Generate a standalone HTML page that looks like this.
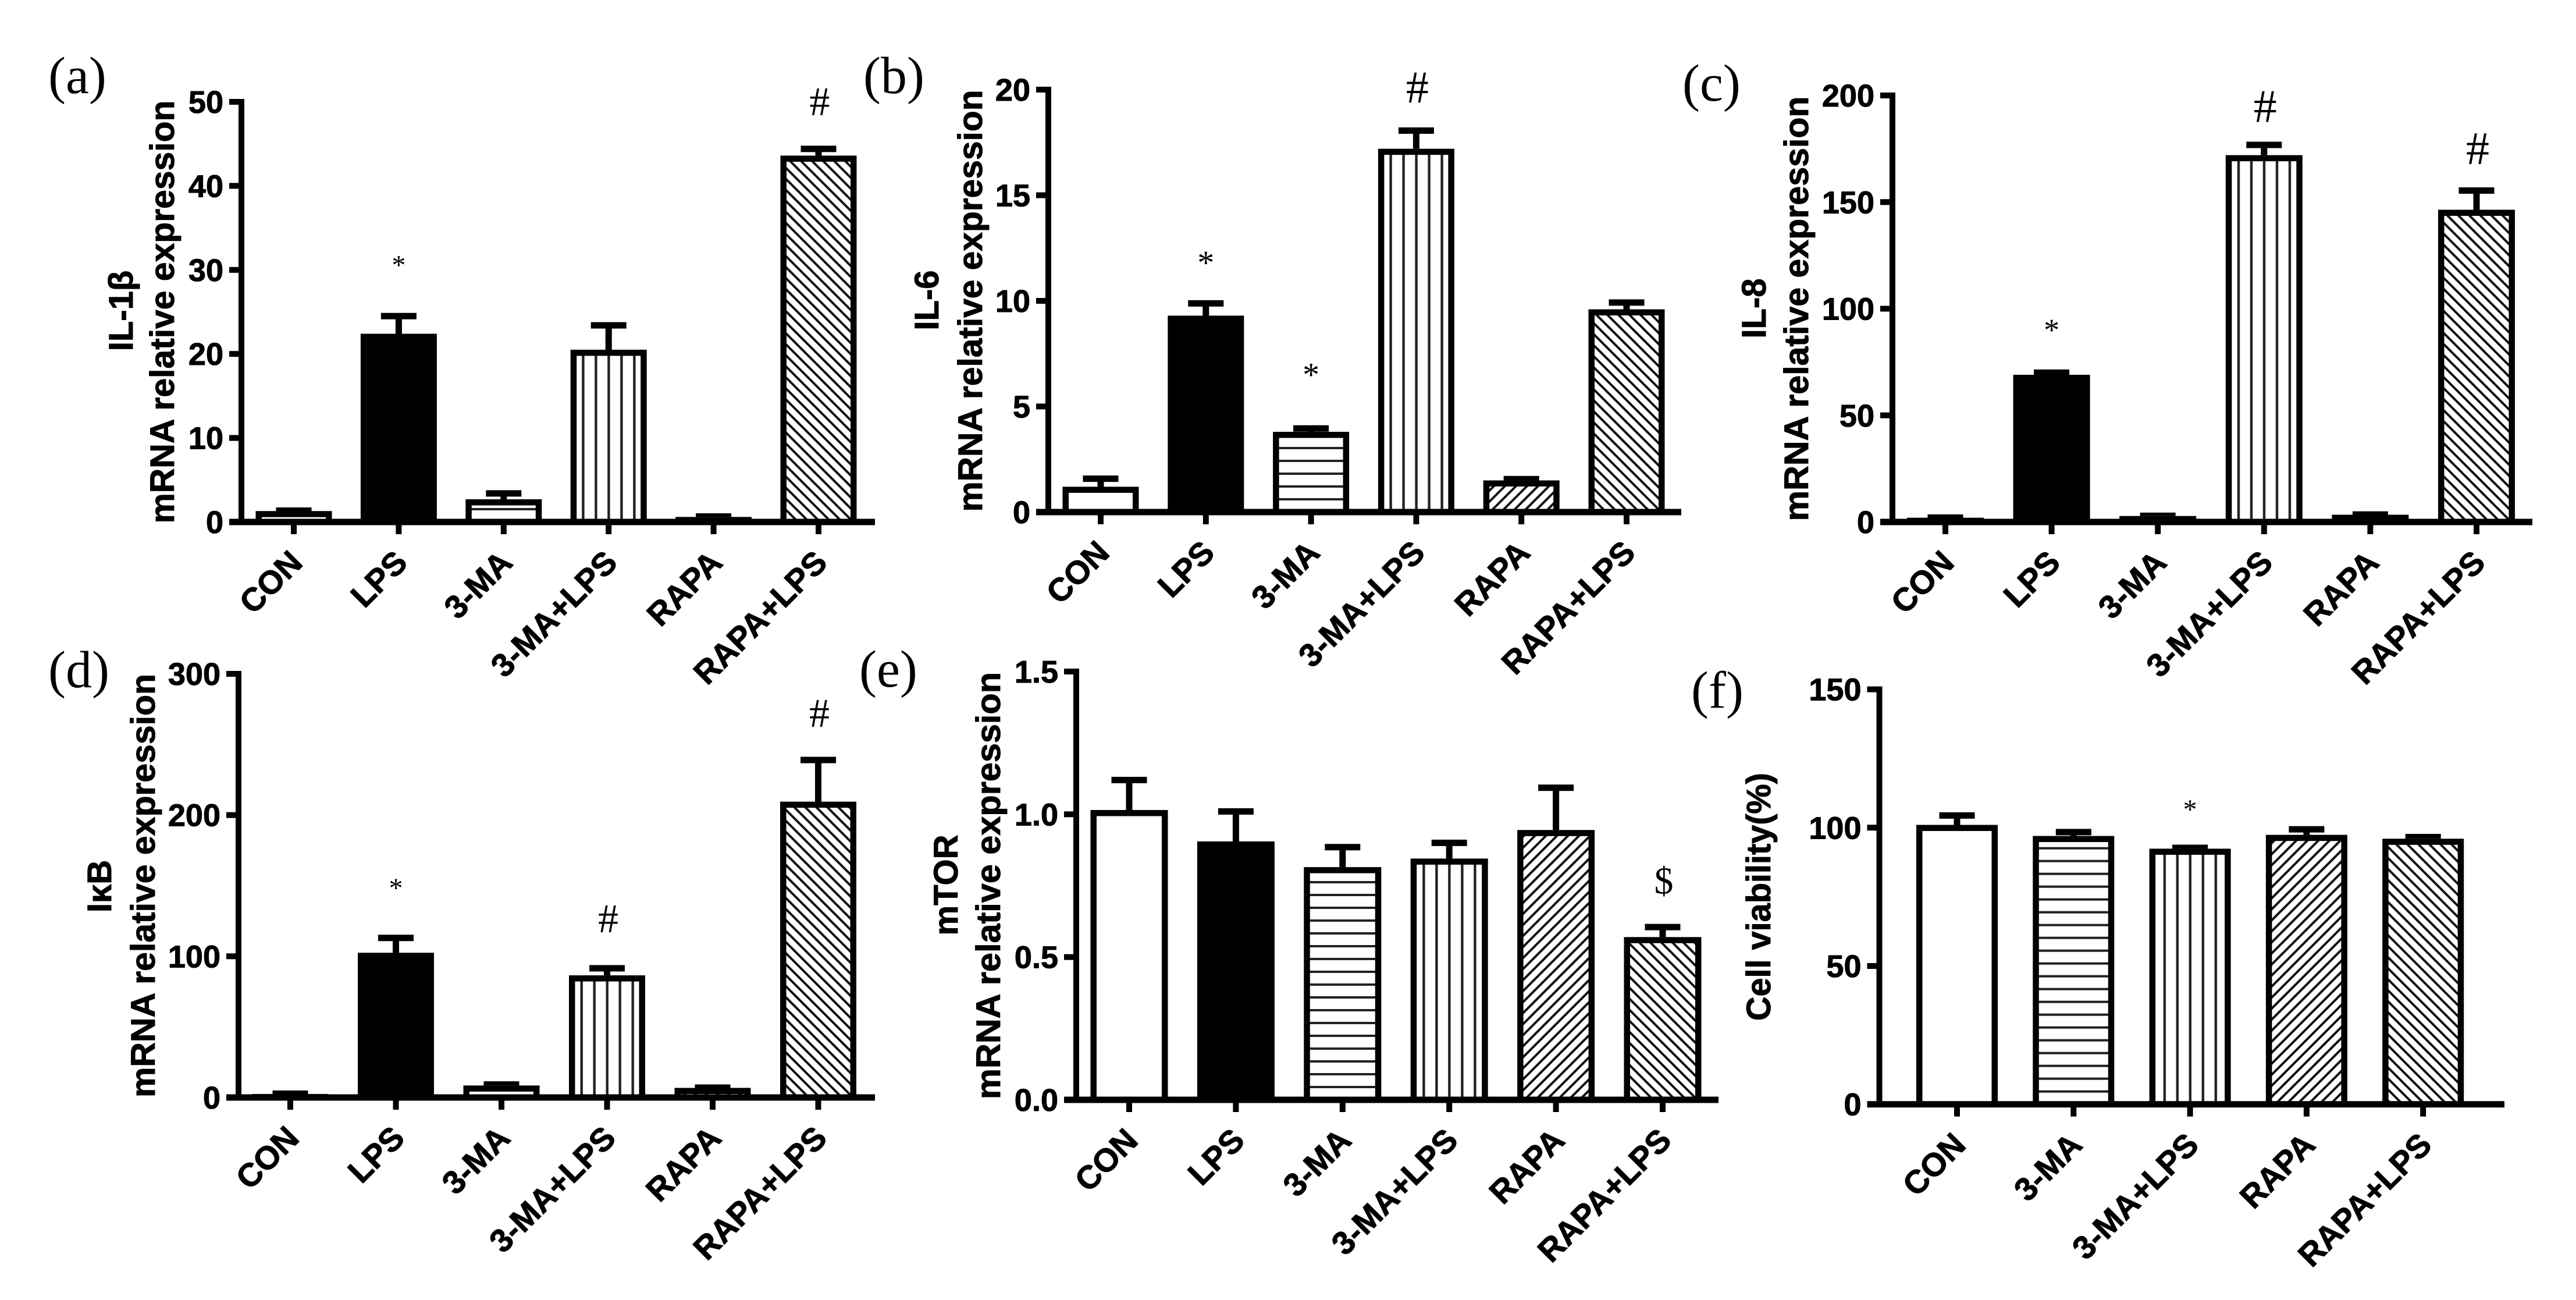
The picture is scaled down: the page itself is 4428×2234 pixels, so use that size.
<!DOCTYPE html>
<html lang="en">
<head>
<meta charset="utf-8">
<title>mRNA relative expression panels</title>
<style>
html,body{margin:0;padding:0;background:#fff;}
svg{display:block;}
text{fill:#000;}
.sans{font-family:"Liberation Sans",Arial,sans-serif;font-weight:bold;stroke:#000;stroke-width:1;}
.serif{font-family:"Liberation Serif","Times New Roman",serif;font-weight:normal;}
</style>
</head>
<body>
<svg id="figure" xmlns="http://www.w3.org/2000/svg" width="4428" height="2234" viewBox="0 0 4428 2234">
<rect x="0" y="0" width="4428" height="2234" fill="#fff"/>
<defs id="defs"></defs>
</svg>
<script>
const SIX_CATEGORIES = ['CON','LPS','3-MA','3-MA+LPS','RAPA','RAPA+LPS'];
const SIX_FILLS = ['none','solid','h','v','up','down'];
const FIVE_CATEGORIES = ['CON','3-MA','3-MA+LPS','RAPA','RAPA+LPS'];
const FIVE_FILLS = ['none','h','v','up','down'];

const aValues = [1.3,22.4,2.7,20.5,0.6,43.6];
const aErrors = [0.05,2.1,0.7,2.9,0.05,0.8];
const aTicks = [0,10,20,30,40,50];
const aSymbols = ['*','#'];
const aSymbolBars = [1,5];
const aSymbolLevels = [31.2,50];

const bValues = [1.2,9.3,3.8,17.2,1.5,9.6];
const bErrors = [0.38,0.58,0.16,0.86,0.06,0.32];
const bTicks = [0,5,10,15,20];
const bSymbols = ['*','*','#'];
const bSymbolBars = [1,2,3];
const bSymbolLevels = [12.1,6.8,20.1];

const cValues = [2,69,2.8,172,3.4,146.4];
const cErrors = [0.05,1,0.1,4.8,0.1,9];
const cTicks = [0,50,100,150,200];
const cSymbols = ['*','#','#'];
const cSymbolBars = [1,3,5];
const cSymbolLevels = [92.8,194.8,175];

const dValues = [2.5,102.5,8.5,86.5,6.8,209.5];
const dErrors = [0.2,10.5,0.7,5,0.2,29.5];
const dTicks = [0,100,200,300];
const dSymbols = ['*','#','#'];
const dSymbolBars = [1,3,5];
const dSymbolLevels = [152,126.5,272];

const eValues = [1.015,0.905,0.815,0.845,0.945,0.57];
const eErrors = [0.105,0.105,0.07,0.055,0.148,0.035];
const eTicks = [0,0.5,1.0,1.5];
const eSymbols = ['$'];
const eSymbolBars = [5];
const eSymbolLevels = [0.767];

const fValues = [101,97,92.4,97.4,96];
const fErrors = [3.4,1.4,0.3,2,0.6];
const fTicks = [0,50,100,150];
const fSymbols = ['*'];
const fSymbolBars = [2];
const fSymbolLevels = [108.5];

const NS = 'http://www.w3.org/2000/svg';
const svg = document.getElementById('figure');
const defs = document.getElementById('defs');
let patternCount = 0;

function make(tag, attrs, parent, text) {
  const el = document.createElementNS(NS, tag);
  for (const k in attrs) el.setAttribute(k, attrs[k]);
  if (text !== undefined) el.textContent = text;
  parent.appendChild(el);
  return el;
}

function hatchPattern(kind, cx, baseY) {
  const id = 'hatch' + (patternCount++);
  let a = {id: id, patternUnits: 'userSpaceOnUse'};
  if (kind === 'h') { a.width = 60; a.height = 22; a.x = 0; a.y = baseY - 4; }
  if (kind === 'v') { a.width = 22; a.height = 60; a.x = cx - 11; a.y = 0; }
  if (kind === 'up') { a.width = 13.4; a.height = 60; a.patternTransform = 'rotate(45 ' + cx + ' ' + baseY + ')'; a.x = cx; a.y = baseY; }
  if (kind === 'down') { a.width = 13.4; a.height = 60; a.patternTransform = 'rotate(-45 ' + cx + ' ' + baseY + ')'; a.x = cx; a.y = baseY; }
  const p = make('pattern', a, defs);
  if (kind === 'h') make('rect', {x: 0, y: 2, width: 60, height: 4, fill: '#222'}, p);
  if (kind === 'v') make('rect', {x: 9, y: 0, width: 4.4, height: 60, fill: '#222'}, p);
  if (kind === 'up' || kind === 'down') make('rect', {x: 0, y: 0, width: 4, height: 60, fill: '#111'}, p);
  return 'url(#' + id + ')';
}

function drawPanel(cfg) {
  const g = make('g', {}, svg);
  
  

  const domainMax = cfg.ticks[cfg.ticks.length - 1];
  const yScale = v => cfg.y0 - (v / domainMax) * (cfg.y0 - cfg.yTop);
  const xScale = i => cfg.x0 + i * cfg.xStep;
  const sw = 10.5;
  const barW = cfg.barW;

  const label = make('text', {x: cfg.labelX, y: cfg.labelY, 'font-size': 90, class: 'serif'}, g, '(' + cfg.key + ')');
  
  

  cfg.values.forEach((v, i) => {
    const cx = xScale(i);
    const topOuter = yScale(v);
    const capY = yScale(v + cfg.errors[i]);
    const kind = cfg.fills[i];

    const stem = make('rect', {x: cx - 5.5, y: capY, width: 11, height: Math.max(0, topOuter - capY + 2), fill: '#000'}, g);
    
    

    const cap = make('rect', {x: cx - 30.5, y: capY - 5.5, width: 61, height: 11, fill: '#000'}, g);
    
    

    let fill = '#fff';
    if (kind === 'solid') fill = '#000';
    if (kind === 'h' || kind === 'v' || kind === 'up' || kind === 'down') fill = hatchPattern(kind, cx, cfg.y0);
    if (kind !== 'none' && kind !== 'solid') {
      const under = make('rect', {x: cx - barW / 2, y: topOuter, width: barW, height: Math.max(0, cfg.y0 - topOuter), fill: '#fff'}, g);
      
      
    }
    const bar = make('rect', {
      x: cx - barW / 2 + sw / 2,
      y: topOuter + sw / 2,
      width: barW - sw,
      height: Math.max(0.1, cfg.y0 - topOuter - sw / 2),
      fill: fill, stroke: '#000', 'stroke-width': sw
    }, g);
    
    

    const tick = make('rect', {x: cx - 5, y: cfg.y0, width: 10, height: 21, fill: '#000'}, g);
    
    

    const lx = cx + 18;
    const ly = cfg.y0 + 73;
    const xl = make('text', {x: lx, y: ly, 'font-size': 56, class: 'sans', 'text-anchor': 'end', transform: 'rotate(-45 ' + lx + ' ' + ly + ')'}, g, cfg.categories[i]);
    
    
  });

  const yAxis = make('rect', {x: cfg.axisX - 5, y: cfg.yTop - 5, width: 10, height: cfg.y0 - cfg.yTop + 10, fill: '#000'}, g);
  
  

  const xAxis = make('rect', {x: cfg.axisX - 21, y: cfg.y0 - 5.5, width: cfg.axisEnd - cfg.axisX + 21, height: 11, fill: '#000'}, g);
  
  

  const decimals = cfg.decimals;
  cfg.ticks.forEach((t, i) => {
    const y = yScale(t);
    const tk = make('rect', {x: cfg.axisX - 21, y: y - 5, width: 21, height: 10, fill: '#000'}, g);
    
    
    const tl = make('text', {x: cfg.axisX - 31, y: y + 19, 'font-size': 54, class: 'sans', 'text-anchor': 'end'}, g, t.toFixed(decimals));
    
    
  });

  const yMid = (cfg.y0 + cfg.yTop) / 2;
  const t2 = make('text', {x: cfg.title2X, y: yMid, 'font-size': 58, class: 'sans', 'text-anchor': 'middle', textLength: cfg.title2Len, lengthAdjust: 'spacingAndGlyphs', transform: 'rotate(-90 ' + cfg.title2X + ' ' + yMid + ')'}, g, cfg.title2);
  
  

  if (cfg.title1) {
    const t1 = make('text', {x: cfg.title1X, y: cfg.title1Y, 'font-size': 58, class: 'sans', 'text-anchor': 'middle', transform: 'rotate(-90 ' + cfg.title1X + ' ' + cfg.title1Y + ')'}, g, cfg.title1);
    
    
  }

  cfg.symbols.forEach((s, i) => {
    const cx = xScale(cfg.symbolBars[i]) + (s === '*' ? 0 : 2);
    const cy = yScale(cfg.symbolLevels[i]);
    const size = s === '*' ? cfg.starSize : cfg.hashSize;
    const base = s === '*' ? cy + size * 0.52 : cy + size * 0.33;
    const m = make('text', {x: cx, y: base, 'font-size': size, class: 'serif', 'text-anchor': 'middle'}, g, s);
    
    
  });
}

drawPanel({key:'a',categories:SIX_CATEGORIES,fills:SIX_FILLS,values:aValues,errors:aErrors,ticks:aTicks,symbols:aSymbols,symbolBars:aSymbolBars,symbolLevels:aSymbolLevels,decimals:0,starSize:48,hashSize:70,
  axisX:415,y0:897,yTop:175,x0:505,xStep:180.4,axisEnd:1504,barW:131,labelX:83,labelY:160,
  title1:'IL-1β',title1X:228,title1Y:534,title2:'mRNA relative expression',title2X:299,title2Len:727});
drawPanel({key:'b',categories:SIX_CATEGORIES,fills:SIX_FILLS,values:bValues,errors:bErrors,ticks:bTicks,symbols:bSymbols,symbolBars:bSymbolBars,symbolLevels:bSymbolLevels,decimals:0,starSize:58,hashSize:78,
  axisX:1802,y0:880,yTop:154,x0:1892,xStep:180.8,axisEnd:2890,barW:131,labelX:1484,labelY:160,
  title1:'IL-6',title1X:1613,title1Y:516,title2:'mRNA relative expression',title2X:1688,title2Len:725});
drawPanel({key:'c',categories:SIX_CATEGORIES,fills:SIX_FILLS,values:cValues,errors:cErrors,ticks:cTicks,symbols:cSymbols,symbolBars:cSymbolBars,symbolLevels:cSymbolLevels,decimals:0,starSize:54,hashSize:80,
  axisX:3253,y0:897,yTop:164,x0:3344,xStep:182.6,axisEnd:4353,barW:132,labelX:2892,labelY:173,
  title1:'IL-8',title1X:3035,title1Y:530,title2:'mRNA relative expression',title2X:3108,title2Len:730});
drawPanel({key:'d',categories:SIX_CATEGORIES,fills:SIX_FILLS,values:dValues,errors:dErrors,ticks:dTicks,symbols:dSymbols,symbolBars:dSymbolBars,symbolLevels:dSymbolLevels,decimals:0,starSize:48,hashSize:70,
  axisX:410,y0:1886,yTop:1158,x0:499,xStep:181.5,axisEnd:1504,barW:131,labelX:83,labelY:1181,
  title1:'IκB',title1X:191,title1Y:1523,title2:'mRNA relative expression',title2X:266,title2Len:728});
drawPanel({key:'e',categories:SIX_CATEGORIES,fills:SIX_FILLS,values:eValues,errors:eErrors,ticks:eTicks,symbols:eSymbols,symbolBars:eSymbolBars,symbolLevels:eSymbolLevels,decimals:1,starSize:48,hashSize:66,
  axisX:1850,y0:1890,yTop:1154,x0:1941,xStep:183.4,axisEnd:2954,barW:133,labelX:1477,labelY:1180,
  title1:'mTOR',title1X:1646,title1Y:1521,title2:'mRNA relative expression',title2X:1719,title2Len:734});
drawPanel({key:'f',categories:FIVE_CATEGORIES,fills:FIVE_FILLS,values:fValues,errors:fErrors,ticks:fTicks,symbols:fSymbols,symbolBars:fSymbolBars,symbolLevels:fSymbolLevels,decimals:0,starSize:48,hashSize:66,
  axisX:3230.5,y0:1897.7,yTop:1184.6,x0:3364,xStep:200.3,axisEnd:4305,barW:140,labelX:2907,labelY:1216,
  title1:'',title2:'Cell viability(%)',title2X:3043,title2Len:426});
</script>
</body>
</html>
